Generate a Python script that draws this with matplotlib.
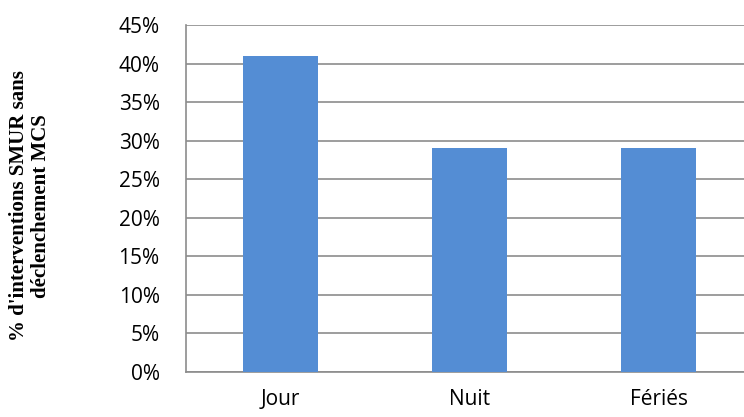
import matplotlib.pyplot as plt
from matplotlib.ticker import FuncFormatter

categories = ['Jour', 'Nuit', 'Fériés']
values = [41, 29, 29]
yticks = [0, 5, 10, 15, 20, 25, 30, 35, 40, 45]

fig = plt.figure(figsize=(7.44, 4.17), dpi=100)
ax = fig.add_axes([186 / 744, 45 / 417, 567 / 744, 347 / 417])

x = range(len(categories))
ax.bar(x, values, width=0.4, color='#548DD4', zorder=3)

ax.set_xlim(-0.5, 2.5)
ax.set_ylim(0, 45)
ax.set_yticks(yticks)
ax.yaxis.set_major_formatter(FuncFormatter(lambda v, p: f'{v:.0f}%'))
ax.set_xticks(list(x))
ax.set_xticklabels(categories)

ax.grid(axis='y', color='#8C8C8C', linewidth=1.2, zorder=0)
for s in ['top', 'right']:
    ax.spines[s].set_visible(False)
for s in ['left', 'bottom']:
    ax.spines[s].set_color('#8C8C8C')
    ax.spines[s].set_linewidth(1.2)

ax.tick_params(axis='both', length=0, labelsize=15, colors='black')
ax.tick_params(axis='y', pad=19)
ax.tick_params(axis='x', pad=12)
for lab in ax.get_xticklabels() + ax.get_yticklabels():
    lab.set_fontfamily('Open Sans')

fig.text(30 / 744, 1 - 206 / 417, "% d'interventions SMUR sans\ndéclenchement MCS",
         rotation=90, ha='center', va='center', multialignment='center',
         fontsize=15, fontweight='bold', family='Liberation Serif',
         linespacing=1.15)

fig.savefig('out.png', dpi=100)
